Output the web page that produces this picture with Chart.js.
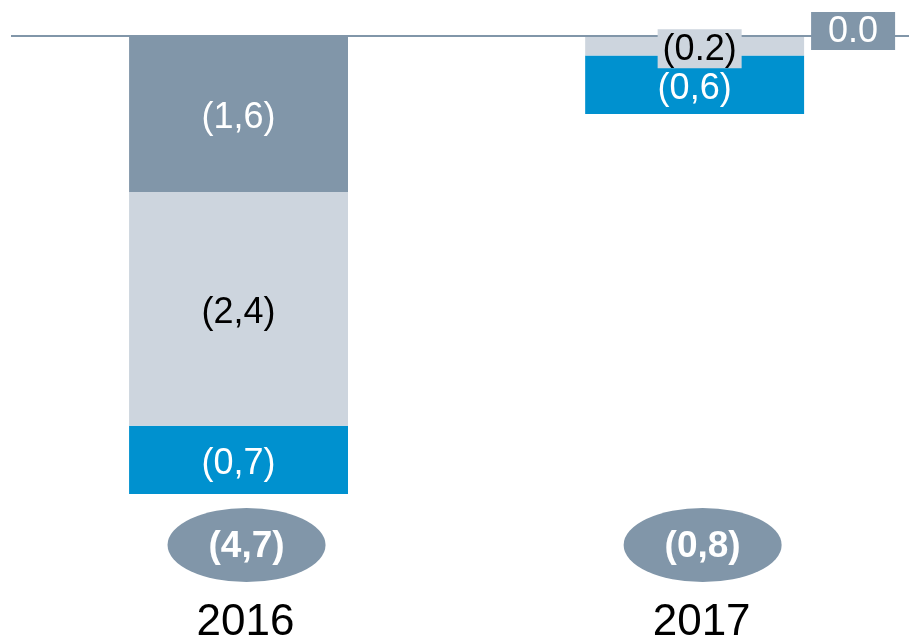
<!DOCTYPE html>
<html><head><meta charset="utf-8">
<script src="https://cdn.jsdelivr.net/npm/chart.js@4.4.0/dist/chart.umd.min.js"></script>
<style>html,body{margin:0;padding:0;background:#fff;overflow:hidden}canvas{display:block}</style>
</head><body>
<canvas id="c" width="909" height="637"></canvas>
<script>
// ---- data ----
const categories = ['2016', '2017'];
const darkValues  = [-1.6, 0.0];
const lightValues = [-2.4, -0.2];
const blueValues  = [-0.7, -0.6];
const darkLabels  = ['(1,6)', '0.0'];
const lightLabels = ['(2,4)', '(0.2)'];
const blueLabels  = ['(0,7)', '(0,6)'];
const totalValues = [-4.7, -0.8];
const totalLabels = ['(4,7)', '(0,8)'];

// ---- styling ----
const FONT = '"Liberation Sans", Arial, Helvetica, sans-serif';
const DARK = '#8196A9', LIGHT = '#CDD5DE', BLUE = '#0091CF';

const pts = arr => arr.map((v, i) => ({ x: i, y: v }));

const labelPlugin = {
  id: 'segLabels',
  afterDatasetsDraw(chart) {
    const ctx = chart.ctx;
    const y0 = chart.scales.y.getPixelForValue(0);
    ctx.save();
    // zero baseline
    ctx.strokeStyle = DARK; ctx.lineWidth = 2;
    ctx.beginPath(); ctx.moveTo(11, y0); ctx.lineTo(chart.width, y0); ctx.stroke();
    ctx.textAlign = 'center'; ctx.textBaseline = 'middle';
    ctx.font = '36px ' + FONT;
    chart.data.datasets.forEach((ds, di) => {
      const meta = chart.getDatasetMeta(di);
      meta.data.forEach((bar, i) => {
        const text = ds.segLabels[i];
        const v = ds.data[i].y;
        if (v === 0) {
          const bx = bar.x + bar.width / 2 + 7, by = y0 - 24;
          ctx.fillStyle = ds.backgroundColor; ctx.fillRect(bx, by, 84, 38);
          ctx.fillStyle = ds.labelColor; ctx.fillText(text, bx + 42, by + 20);
        } else if (Math.abs(bar.base - bar.y) < 30) {
          const cx = bar.x + 5, cy = (bar.y + bar.base) / 2 + 3;
          ctx.fillStyle = ds.backgroundColor; ctx.fillRect(cx - 42, cy - 19.5, 84, 39);
          ctx.fillStyle = ds.labelColor; ctx.fillText(text, cx, cy + 1);
        } else {
          ctx.fillStyle = ds.labelColor;
          ctx.fillText(text, bar.x, (bar.y + bar.base) / 2 + 4);
        }
      });
    });
    // totals in ellipses
    const xs = chart.scales.x;
    const ey = y0 + 509;
    ctx.font = 'bold 37px ' + FONT;
    totalValues.forEach((t, i) => {
      const cx = xs.getPixelForValue(i) + 8;
      ctx.fillStyle = DARK;
      ctx.beginPath(); ctx.ellipse(cx, ey, 79, 37, 0, 0, Math.PI * 2); ctx.fill();
      ctx.fillStyle = '#fff';
      ctx.fillText(totalLabels[i], cx, ey + 2);
    });
    ctx.restore();
  }
};

new Chart(document.getElementById('c'), {
  type: 'bar',
  data: {
    datasets: [
      { label: 'A', data: pts(darkValues),  backgroundColor: DARK,  segLabels: darkLabels,  labelColor: '#fff' },
      { label: 'B', data: pts(lightValues), backgroundColor: LIGHT, segLabels: lightLabels, labelColor: '#000' },
      { label: 'C', data: pts(blueValues),  backgroundColor: BLUE,  segLabels: blueLabels,  labelColor: '#fff' }
    ]
  },
  options: {
    responsive: false,
    animation: false,
    devicePixelRatio: 1,
    categoryPercentage: 1,
    barPercentage: 0.48,
    borderWidth: 0,
    layout: { padding: { top: 36, left: 0, right: 0, bottom: 0 } },
    plugins: { legend: { display: false }, tooltip: { enabled: false } },
    scales: {
      x: {
        type: 'linear', stacked: true, offset: false,
        min: -0.523, max: 1.470,
        grid: { display: false, drawTicks: false },
        border: { display: false },
        afterBuildTicks: s => { s.ticks = categories.map((c, i) => ({ value: i })); },
        ticks: {
          autoSkip: false, maxRotation: 0, padding: 0, labelOffset: 7,
          color: '#000', font: { family: FONT, size: 44, lineHeight: 0.66 },
          callback: v => ['', categories[v]]
        }
      },
      y: {
        stacked: true, display: false, min: -5.571, max: 0
      }
    }
  },
  plugins: [labelPlugin]
});
</script>
</body></html>
